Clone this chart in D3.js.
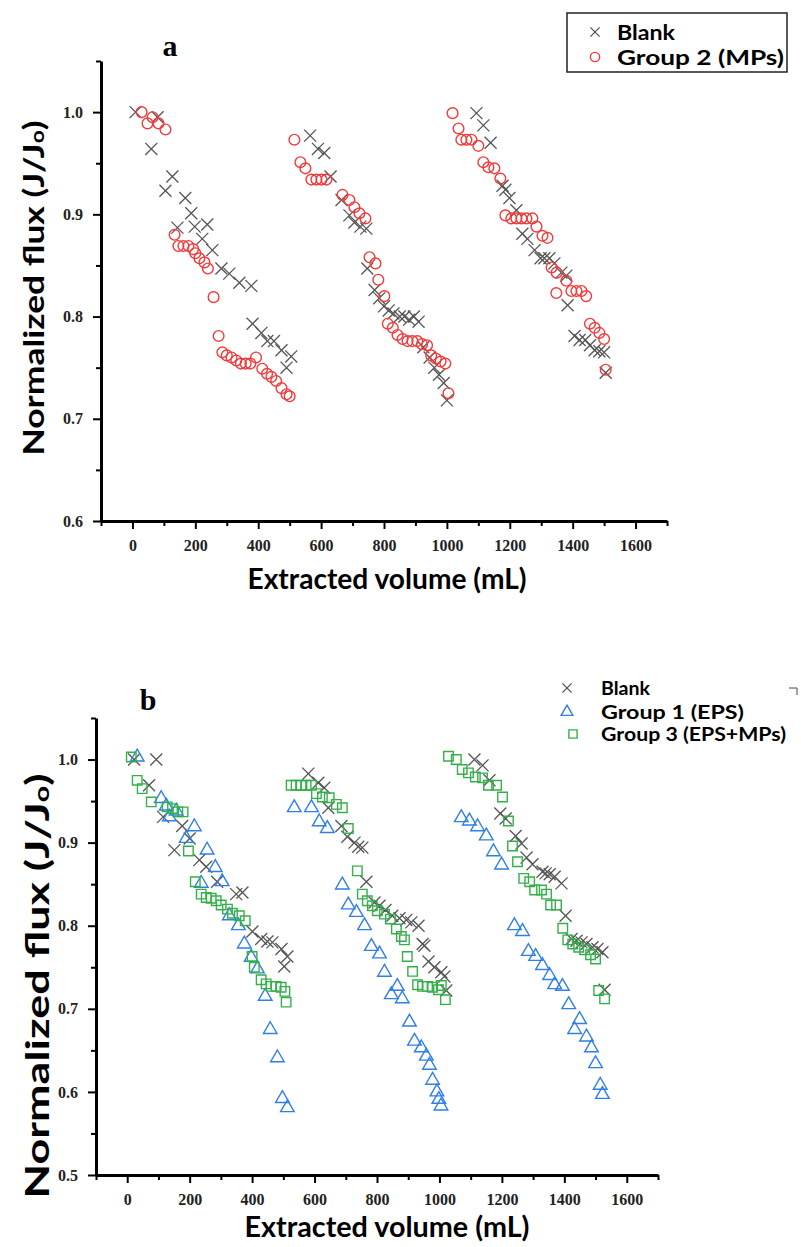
<!DOCTYPE html>
<html>
<head>
<meta charset="utf-8">
<script src="https://cdn.jsdelivr.net/npm/d3@7"></script>
<style>
  body { margin: 0; background: #fff; }
  .tick text { font-family: "Liberation Serif", serif; font-weight: bold; font-size: 16px; fill: #222; }
  .axis path, .axis line { stroke: #000; }
</style>
</head>
<body>
<div id="chart"></div>
<script>
// Panel a: Blank
const blankVolA = [10, 60, 80, 105, 127, 143, 168, 187, 198, 222, 238, 254, 283, 308, 340, 378, 382, 410, 429, 450, 474, 490, 505,
  565, 590, 610, 630, 665, 690, 706, 725, 744, 747, 770, 785, 800, 815, 830, 850, 865, 880, 895, 910, 925, 945, 960, 975, 990, 1000,
  1094, 1116, 1139, 1177, 1186, 1199, 1221, 1240, 1256, 1279, 1298, 1310, 1326, 1342, 1364, 1380, 1384, 1406, 1422, 1440, 1455, 1470, 1485, 1500, 1505];
const blankFluxA = [1.000, 0.964, 0.995, 0.923, 0.937, 0.887, 0.916, 0.901, 0.888, 0.876, 0.890, 0.865, 0.847, 0.842, 0.833, 0.830, 0.793, 0.784, 0.776, 0.776, 0.767, 0.750, 0.761,
  0.977, 0.964, 0.960, 0.937, 0.914, 0.899, 0.892, 0.888, 0.886, 0.847, 0.826, 0.818, 0.810, 0.806, 0.803, 0.800, 0.800, 0.797, 0.800, 0.795, 0.770, 0.760, 0.750, 0.743, 0.735, 0.718,
  0.999, 0.987, 0.970, 0.928, 0.924, 0.916, 0.904, 0.881, 0.876, 0.865, 0.857, 0.857, 0.857, 0.852, 0.843, 0.840, 0.811, 0.781, 0.777, 0.777, 0.772, 0.767, 0.766, 0.765, 0.745];

// Panel a: Group 2 (MPs)
const mpVol = [29, 48, 64, 83, 105, 134, 146, 162, 178, 193, 200, 213, 229, 240, 258, 274, 286, 300, 315, 330, 345, 360, 375, 393, 413, 428, 442, 457, 474, 490, 500,
  515, 534, 550, 569, 585, 601, 617, 668, 690, 706, 722, 741, 754, 773, 782, 801, 812, 828, 843, 859, 875, 890, 906, 921, 937, 950, 965, 980, 995, 1005,
  1018, 1037, 1046, 1062, 1078, 1100, 1116, 1132, 1151, 1170, 1186, 1205, 1221, 1237, 1253, 1272, 1285, 1304, 1320, 1333, 1348, 1349, 1380, 1396, 1412, 1428, 1443, 1455, 1470, 1485, 1500, 1505];
const mpFlux = [1.000, 0.989, 0.995, 0.989, 0.983, 0.880, 0.869, 0.869, 0.869, 0.866, 0.862, 0.857, 0.853, 0.847, 0.819, 0.781, 0.765, 0.762, 0.760, 0.757, 0.754, 0.754, 0.754, 0.760, 0.749, 0.744, 0.741, 0.737, 0.730, 0.724, 0.722,
  0.973, 0.951, 0.945, 0.934, 0.934, 0.934, 0.934, 0.919, 0.914, 0.907, 0.901, 0.896, 0.858, 0.852, 0.836, 0.820, 0.793, 0.789, 0.782, 0.778, 0.776, 0.776, 0.776, 0.773, 0.772, 0.762, 0.759, 0.756, 0.754, 0.725,
  0.999, 0.984, 0.973, 0.973, 0.973, 0.967, 0.951, 0.946, 0.945, 0.935, 0.899, 0.896, 0.896, 0.896, 0.896, 0.896, 0.888, 0.879, 0.877, 0.848, 0.823, 0.843, 0.835, 0.825, 0.825, 0.825, 0.820, 0.793, 0.789, 0.784, 0.778, 0.748];

// Panel b: Blank
const blankVolB = [22, 70, 93, 115, 151, 176, 200, 231, 253, 288, 349, 369, 401, 429, 449, 465, 494, 503, 513,
  580, 612, 631, 644, 686, 705, 728, 740, 753, 766, 792, 808, 827, 849, 872, 894, 910, 933, 946, 952, 965, 984, 1006, 1016, 1022,
  1112, 1138, 1160, 1195, 1212, 1244, 1263, 1279, 1298, 1330, 1340, 1353, 1369, 1391, 1404, 1423, 1439, 1455, 1471, 1490, 1506, 1522, 1529];
const blankFluxB = [1.000, 0.969, 1.000, 0.931, 0.891, 0.920, 0.905, 0.879, 0.871, 0.853, 0.838, 0.840, 0.793, 0.784, 0.781, 0.780, 0.772, 0.751, 0.763,
  0.983, 0.972, 0.966, 0.942, 0.920, 0.907, 0.900, 0.895, 0.894, 0.853, 0.828, 0.824, 0.819, 0.812, 0.809, 0.807, 0.804, 0.800, 0.778, 0.776, 0.757, 0.750, 0.744, 0.739, 0.722,
  1.000, 0.993, 0.975, 0.935, 0.929, 0.908, 0.899, 0.882, 0.874, 0.865, 0.863, 0.862, 0.859, 0.851, 0.812, 0.784, 0.782, 0.780, 0.778, 0.774, 0.772, 0.768, 0.723];

// Panel b: Group 1 (EPS)
const epsVol = [32, 109, 125, 135, 157, 189, 215, 237, 256, 282, 304, 327, 356, 375, 397, 417, 442, 458, 481, 497, 513,
  535, 590, 615, 641, 689, 708, 734, 760, 782, 808, 824, 846, 865, 881, 904, 920, 942, 958, 968, 978, 992, 998, 1005,
  1070, 1096, 1122, 1150, 1173, 1199, 1240, 1266, 1285, 1308, 1330, 1353, 1369, 1394, 1414, 1433, 1449, 1471, 1487, 1500, 1515, 1522];
const epsFlux = [1.003, 0.953, 0.944, 0.931, 0.938, 0.905, 0.919, 0.851, 0.891, 0.870, 0.853, 0.812, 0.800, 0.778, 0.762, 0.748, 0.715, 0.675, 0.641, 0.592, 0.581,
  0.942, 0.942, 0.925, 0.917, 0.849, 0.825, 0.816, 0.800, 0.775, 0.766, 0.744, 0.717, 0.727, 0.712, 0.684, 0.661, 0.653, 0.643, 0.632, 0.614, 0.600, 0.591, 0.583,
  0.930, 0.926, 0.919, 0.908, 0.889, 0.873, 0.800, 0.793, 0.769, 0.763, 0.752, 0.740, 0.729, 0.727, 0.705, 0.675, 0.687, 0.666, 0.653, 0.634, 0.608, 0.597];

// Panel b: Group 3 (EPS+MPs)
const epsMpVol = [13, 32, 48, 77, 128, 145, 162, 179, 196, 218, 237, 253, 269, 285, 301, 321, 337, 359, 378, 400, 407, 429, 445, 461, 477, 493, 505, 509,
  525, 541, 557, 573, 590, 606, 625, 647, 670, 689, 708, 737, 753, 769, 785, 801, 824, 843, 862, 878, 888, 897, 914, 930, 946, 962, 978, 997, 1006, 1019,
  1029, 1054, 1073, 1093, 1115, 1138, 1157, 1183, 1202, 1221, 1234, 1250, 1270, 1289, 1305, 1327, 1343, 1356, 1375, 1395, 1411, 1427, 1446, 1465, 1484, 1500, 1510, 1529];
const epsMpFlux = [1.003, 0.975, 0.965, 0.949, 0.943, 0.941, 0.937, 0.937, 0.890, 0.853, 0.838, 0.834, 0.833, 0.830, 0.825, 0.820, 0.815, 0.812, 0.806, 0.763, 0.750, 0.735, 0.730, 0.727, 0.727, 0.726, 0.721, 0.708,
  0.969, 0.969, 0.969, 0.969, 0.969, 0.959, 0.955, 0.954, 0.946, 0.942, 0.917, 0.866, 0.838, 0.830, 0.824, 0.818, 0.814, 0.808, 0.796, 0.787, 0.783, 0.763, 0.745, 0.729, 0.727, 0.727, 0.726, 0.723, 0.728, 0.711,
  1.004, 1.000, 0.988, 0.984, 0.979, 0.978, 0.969, 0.969, 0.955, 0.926, 0.896, 0.877, 0.857, 0.853, 0.843, 0.843, 0.838, 0.825, 0.825, 0.797, 0.783, 0.778, 0.774, 0.771, 0.765, 0.760, 0.722, 0.712];

const xMajor = [0, 200, 400, 600, 800, 1000, 1200, 1400, 1600];
const xMinor = [-100, 100, 300, 500, 700, 900, 1100, 1300, 1500, 1700];
const yMajorA = [0.6, 0.7, 0.8, 0.9, 1.0];
const yMinorA = [0.65, 0.75, 0.85, 0.95, 1.05];
const yMajorB = [0.5, 0.6, 0.7, 0.8, 0.9, 1.0];
const yMinorB = [0.55, 0.65, 0.75, 0.85, 0.95, 1.05];

const W = 801, H = 1247;
const svg = d3.select("#chart").append("svg")
  .attr("width", W).attr("height", H)
  .style("background", "#fff");

const toPts = (xs, ys) => xs.map((x, i) => ({ x: x, y: ys[i] }));

const titleFont = "Lato, 'Open Sans', sans-serif";

// thin "×": a plus rotated by 45°
const crossPath = "M-8.5,0L8.5,0M0,-8.5L0,8.5";

function drawPanel(p) {
  const x = d3.scaleLinear().domain([-100, 1700]).range(p.xRange);
  const y = d3.scaleLinear().domain(p.yDomain).range(p.yRange);
  const g = svg.append("g");

  // minor ticks
  g.append("g").attr("class", "axis")
    .attr("transform", `translate(0,${p.yRange[0]})`)
    .call(d3.axisBottom(x).tickValues(xMinor).tickSize(5).tickFormat(""))
    .call(a => a.select(".domain").remove())
    .call(a => a.selectAll("line").attr("stroke-width", 2));
  g.append("g").attr("class", "axis")
    .attr("transform", `translate(${p.xRange[0]},0)`)
    .call(d3.axisLeft(y).tickValues(p.yMinor).tickSize(5).tickFormat(""))
    .call(a => a.select(".domain").remove())
    .call(a => a.selectAll("line").attr("stroke-width", 2));

  // major ticks + labels
  g.append("g").attr("class", "axis")
    .attr("transform", `translate(0,${p.yRange[0]})`)
    .call(d3.axisBottom(x).tickValues(xMajor).tickSize(8).tickSizeOuter(0).tickPadding(11).tickFormat(d3.format("d")))
    .call(a => a.select(".domain").attr("stroke-width", 3))
    .call(a => a.selectAll("line").attr("stroke-width", 2));
  g.append("g").attr("class", "axis")
    .attr("transform", `translate(${p.xRange[0]},0)`)
    .call(d3.axisLeft(y).tickValues(p.yMajor).tickSize(8).tickSizeOuter(0).tickPadding(10).tickFormat(d3.format(".1f")))
    .call(a => a.select(".domain").attr("stroke-width", 3))
    .call(a => a.selectAll("line").attr("stroke-width", 2));

  // axis titles
  g.append("text")
    .attr("x", p.xTitle[0]).attr("y", p.xTitle[1])
    .attr("text-anchor", "middle")
    .attr("textLength", p.xTitle[2]).attr("lengthAdjust", "spacingAndGlyphs")
    .style("font-family", titleFont).style("font-weight", "bold").style("font-size", p.xTitle[3] + "px")
    .text("Extracted volume  (mL)");
  const yt = g.append("text")
    .attr("transform", `translate(${p.yTitle[0]},${p.yTitle[1]}) rotate(-90)`)
    .attr("text-anchor", "middle")
    .attr("textLength", p.yTitle[3]).attr("lengthAdjust", "spacingAndGlyphs")
    .style("font-family", titleFont).style("font-weight", "bold").style("font-size", p.yTitle[2] + "px");
  yt.append("tspan").text("Normalized flux (J/J");
  yt.append("tspan").style("font-size", Math.round(p.yTitle[2] * 0.65) + "px").text("o");
  yt.append("tspan").text(")");

  // panel letter
  g.append("text")
    .attr("x", p.letter[0]).attr("y", p.letter[1])
    .attr("text-anchor", "middle")
    .style("font-family", "'Liberation Serif', serif").style("font-weight", "bold").style("font-size", "30px")
    .text(p.letter[2]);

  p.series.forEach(s => {
    const pts = toPts(s.xs, s.ys);
    const isCross = s.type === d3.symbolCross;
    g.append("g").selectAll("path").data(pts).join("path")
      .attr("transform", d => `translate(${x(d.x)},${y(d.y)})${isCross ? " rotate(45)" : ""}`)
      .attr("d", isCross ? crossPath : d3.symbol().type(s.type).size(s.size))
      .attr("fill", "none")
      .attr("stroke", s.color)
      .attr("stroke-width", s.sw);
  });
}

const style = {
  blank: { type: d3.symbolCross, color: "#555", sw: 1.3, size: 0 },
  mp: { type: d3.symbolCircle, color: "#f23a3a", sw: 1.4, size: 90 },
  eps: { type: d3.symbolTriangle, color: "#2f7fe6", sw: 1.4, size: 80 },
  epsMp: { type: d3.symbolSquare, color: "#34b04a", sw: 1.4, size: 90 }
};

drawPanel({
  xRange: [101, 667], yDomain: [0.6, 1.05], yRange: [521, 61],
  yMajor: yMajorA, yMinor: yMinorA,
  xTitle: [387, 589, 279, 28], yTitle: [44, 288, 28, 335], letter: [170, 56, "a"],
  series: [
    Object.assign({ xs: blankVolA, ys: blankFluxA }, style.blank),
    Object.assign({ xs: mpVol, ys: mpFlux }, style.mp)
  ]
});

drawPanel({
  xRange: [96, 658], yDomain: [0.5, 1.05], yRange: [1175, 718],
  yMajor: yMajorB, yMinor: yMinorB,
  xTitle: [387, 1237, 285, 28], yTitle: [49, 986, 33, 425], letter: [148, 710, "b"],
  series: [
    Object.assign({ xs: blankVolB, ys: blankFluxB }, style.blank),
    Object.assign({ xs: epsVol, ys: epsFlux }, style.eps),
    Object.assign({ xs: epsMpVol, ys: epsMpFlux }, style.epsMp)
  ]
});

// legends
function legend(items, fs) {
  const lg = svg.append("g");
  items.forEach(it => {
    const m = lg.append("path")
      .attr("fill", "none").attr("stroke", it.s.color).attr("stroke-width", it.s.sw);
    if (it.s.type === d3.symbolCross) {
      m.attr("d", "M-6.5,0L6.5,0M0,-6.5L0,6.5").attr("transform", `translate(${it.mx},${it.my}) rotate(45)`);
    } else {
      m.attr("d", d3.symbol().type(it.s.type).size(it.s.size * 0.75)()).attr("transform", `translate(${it.mx},${it.my})`);
    }
    lg.append("text").attr("x", it.tx).attr("y", it.ty)
      .attr("textLength", it.len).attr("lengthAdjust", "spacingAndGlyphs")
      .style("font-family", titleFont).style("font-weight", "bold").style("font-size", fs + "px")
      .text(it.label);
  });
  return lg;
}

const legA = legend([
  { s: style.blank, label: "Blank", mx: 595, my: 32, tx: 617, ty: 40, len: 58 },
  { s: style.mp, label: "Group 2 (MPs)", mx: 595, my: 57, tx: 617, ty: 65, len: 167 }
], 20);
legA.insert("rect", ":first-child")
  .attr("x", 567).attr("y", 13).attr("width", 220).attr("height", 59)
  .attr("fill", "#fff").attr("stroke", "#222").attr("stroke-width", 1.5);

const legB = legend([
  { s: style.blank, label: "Blank", mx: 567, my: 688, tx: 601, ty: 695, len: 49 },
  { s: style.eps, label: "Group 1 (EPS)", mx: 567, my: 712, tx: 601, ty: 719, len: 143 },
  { s: style.epsMp, label: "Group 3 (EPS+MPs)", mx: 573, my: 734, tx: 601, ty: 741, len: 185 }
], 18);
// only a small corner of the legend frame shows in the original
legB.append("path")
  .attr("d", "M789,688L797,688L797,695")
  .attr("fill", "none").attr("stroke", "#444").attr("stroke-width", 1);
</script>
</body>
</html>
